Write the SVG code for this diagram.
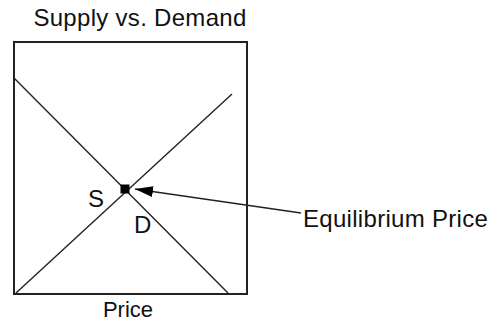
<svg xmlns="http://www.w3.org/2000/svg" width="497" height="322" viewBox="0 0 497 322">
<style>
text{font-family:"Liberation Sans",Arial,sans-serif;font-size:24px;letter-spacing:0.3px;fill:#111}
.ln{stroke:#222;stroke-width:1.4;fill:none}
.box{stroke:#222;stroke-width:2;fill:#fff}
</style>
<defs>
<marker id="ah" markerWidth="18" markerHeight="11" refX="18" refY="5.5" orient="auto" markerUnits="userSpaceOnUse">
<path d="M0,0 L18,5.5 L0,11 Z" fill="#000"/>
</marker>
</defs>
<text x="140" y="26" text-anchor="middle">Supply vs. Demand</text>
<g id="chart">
<rect class="box" x="14" y="42" width="233" height="252"/>
</g>
<g id="connectors">
<line id="demand" class="ln" x1="14" y1="78" x2="228" y2="293"/>
<line id="supply" class="ln" x1="16" y1="293" x2="232" y2="94"/>
<line id="arrow" class="ln" x1="301" y1="213" x2="135" y2="189" marker-end="url(#ah)"/>
</g>
<g id="equilibrium">
<rect x="120.5" y="184.5" width="9" height="9" fill="#000"/>
</g>
<text x="88" y="207">S</text>
<text x="134" y="233">D</text>
<text x="303" y="227">Equilibrium Price</text>
<text x="128" y="317" text-anchor="middle" style="font-size:22px;letter-spacing:0">Price</text>
</svg>
